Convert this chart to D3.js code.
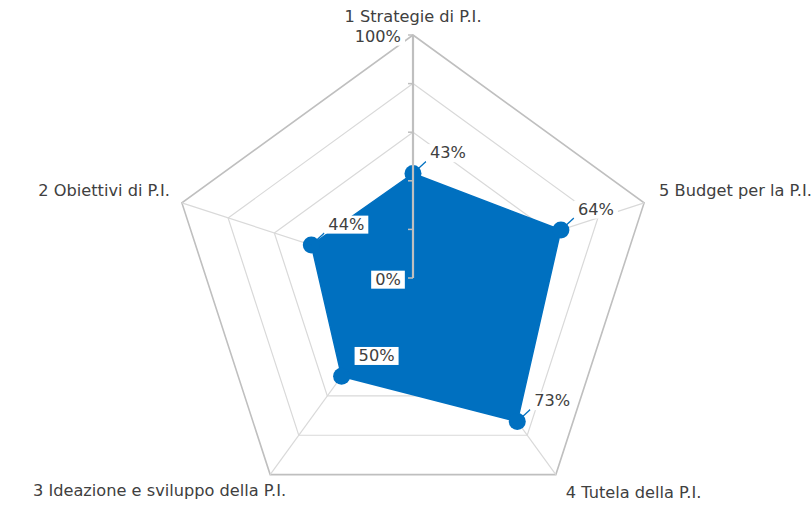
<!DOCTYPE html>
<html>
<head>
<meta charset="utf-8">
<script src="https://cdn.jsdelivr.net/npm/d3@7"></script>
<style>
  body { margin: 0; background: #fff; }
  text { font-family: "DejaVu Sans", "Noto Sans", sans-serif; fill: #404040; }
</style>
</head>
<body>
<div id="chart"></div>
<script>
// radar chart, axes listed clockwise from the top
const categories = ["1 Strategie di P.I.", "5 Budget per la P.I.", "4 Tutela della P.I.",
                    "3 Ideazione e sviluppo della P.I.", "2 Obiettivi di P.I."];
const values = [0.43, 0.64, 0.73, 0.50, 0.44];
const gridLevels = [0.2, 0.4, 0.6, 0.8, 1.0];
const axisTicks = [0, 0.2, 0.4, 0.6, 0.8, 1.0];
const axisLabels = [0, 1.0];

const width = 812;
const height = 505;
const cx = 413, cy = 278;
const R = 243;
const blue = "#0070c0";
const fontSize = 16.2;

const svg = d3.select("#chart")
  .append("svg")
  .attr("width", width)
  .attr("height", height);

const r = d3.scaleLinear().domain([0, 1]).range([0, R]);
const angle = d3.scalePoint().domain(d3.range(categories.length + 1)).range([0, 2 * Math.PI]);
const pct = d3.format(".0%");

const g = svg.append("g").attr("transform", `translate(${cx},${cy})`);

const pt = (i, v) => {
  const a = angle(i);
  return [r(v) * Math.sin(a), -r(v) * Math.cos(a)];
};

// grid rings
const ring = d3.lineRadial()
  .angle((d, i) => angle(i))
  .curve(d3.curveLinearClosed);

g.selectAll("path.grid")
  .data(gridLevels)
  .enter()
  .append("path")
  .attr("d", lv => ring.radius(r(lv))(categories))
  .attr("fill", "none")
  .attr("stroke", lv => lv === 1 ? "#bfbfbf" : "#d9d9d9")
  .attr("stroke-width", lv => lv === 1 ? 1.6 : 1.2);

// spokes
g.selectAll("line.spoke")
  .data(categories)
  .enter()
  .append("line")
  .attr("x2", (d, i) => pt(i, 1)[0])
  .attr("y2", (d, i) => pt(i, 1)[1])
  .attr("stroke", "#d9d9d9")
  .attr("stroke-width", 1.2);

// series area
g.append("path")
  .attr("d", d3.lineRadial()
    .angle((d, i) => angle(i))
    .radius(d => r(d))
    .curve(d3.curveLinearClosed)(values))
  .attr("fill", blue)
  .attr("stroke", blue)
  .attr("stroke-width", 1.5);

// markers
g.selectAll("circle.mark")
  .data(values)
  .enter()
  .append("circle")
  .attr("cx", (d, i) => pt(i, d)[0])
  .attr("cy", (d, i) => pt(i, d)[1])
  .attr("r", 8.5)
  .attr("fill", blue);

// leader lines
g.selectAll("line.leader")
  .data(values)
  .enter()
  .append("line")
  .attr("x1", (d, i) => pt(i, d)[0])
  .attr("y1", (d, i) => pt(i, d)[1])
  .attr("x2", (d, i) => pt(i, d)[0] + 13)
  .attr("y2", (d, i) => pt(i, d)[1] - 12)
  .attr("stroke", blue)
  .attr("stroke-width", 1.3);

// value axis on the first spoke
g.append("line")
  .attr("y1", 0)
  .attr("y2", -r(1))
  .attr("stroke", "#bfbfbf")
  .attr("stroke-width", 2.2);

g.selectAll("line.tick")
  .data(axisTicks)
  .enter()
  .append("line")
  .attr("x1", -5)
  .attr("x2", 0)
  .attr("y1", d => -r(d))
  .attr("y2", d => -r(d))
  .attr("stroke", "#bfbfbf")
  .attr("stroke-width", 1.5);

function boxedLabel(sel, x, y, txt, anchor) {
  const grp = sel.append("g");
  const t = grp.append("text")
    .attr("x", x)
    .attr("y", y)
    .attr("dy", "0.35em")
    .attr("text-anchor", anchor)
    .attr("font-size", fontSize)
    .text(txt);
  const b = t.node().getBBox();
  grp.insert("rect", "text")
    .attr("x", b.x - 4)
    .attr("y", b.y + 1)
    .attr("width", b.width + 8)
    .attr("height", b.height - 1)
    .attr("fill", "#fff");
}

// axis labels
axisLabels.forEach(v => {
  if (v === 0) boxedLabel(g, -25, 1, pct(v), "middle");
  else boxedLabel(g, -12, -r(v) + 1, pct(v), "end");
});

// data labels
values.forEach((v, i) => {
  const [x, y] = pt(i, v);
  boxedLabel(g, x + 35, y - 21, pct(v), "middle");
});

// category labels
const catPos = [
  { dx: 0, dy: -19, anchor: "middle" },
  { dx: 15, dy: -13, anchor: "start" },
  { dx: 10, dy: 18, anchor: "start" },
  { dx: 16, dy: 16, anchor: "end" },
  { dx: -12, dy: -13, anchor: "end" }
];

g.selectAll("text.cat")
  .data(categories)
  .enter()
  .append("text")
  .attr("x", (d, i) => pt(i, 1)[0] + catPos[i].dx)
  .attr("y", (d, i) => pt(i, 1)[1] + catPos[i].dy)
  .attr("dy", "0.35em")
  .attr("text-anchor", (d, i) => catPos[i].anchor)
  .attr("font-size", fontSize)
  .text(d => d);
</script>
</body>
</html>
